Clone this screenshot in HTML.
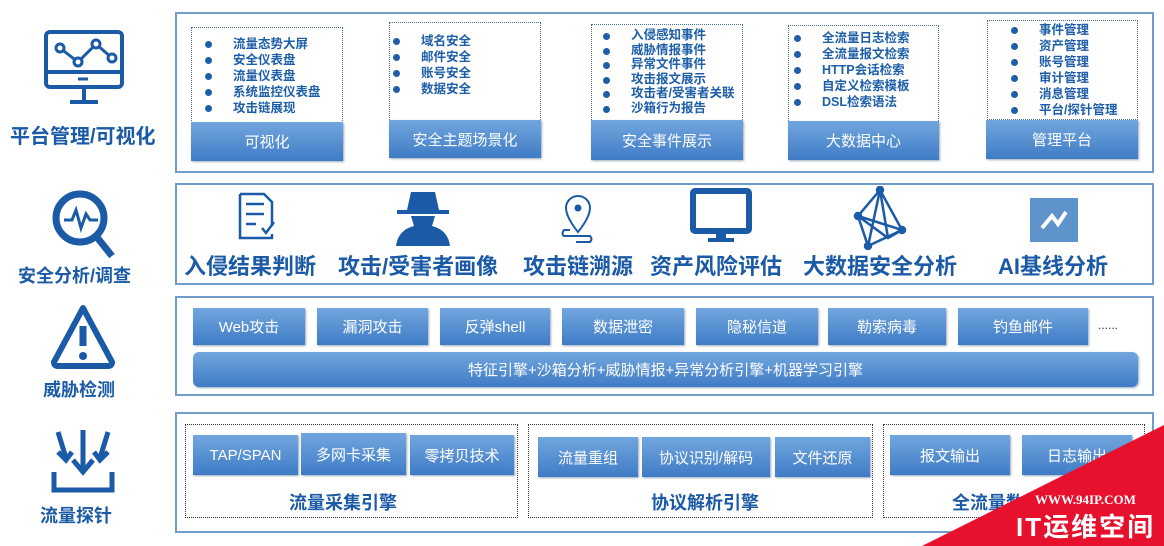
<!DOCTYPE html>
<html><head><meta charset="utf-8"><style>
*{margin:0;padding:0;box-sizing:border-box}
body{width:1164px;height:546px;background:#fff;position:relative;overflow:hidden;font-family:"Liberation Sans","Noto Sans CJK SC",sans-serif}
.a{position:absolute}
.box{position:absolute;border:2px solid #6f9ccb}
.dot{position:absolute;border:1px dotted #4a6f9c}
.btn{position:absolute;background:linear-gradient(#72a6de,#3f7cc6);color:#fff;font-size:15px;display:flex;align-items:center;justify-content:center;box-shadow:1px 1px 2px #9ab}
.list{position:absolute;font-size:12.5px;font-weight:bold;color:#1d5ea8;line-height:16px}
.list div{position:relative;padding-left:28px}
.list div:before{content:"";position:absolute;left:0;top:5px;width:7px;height:7px;border-radius:50%;background:#1d5ea8}
.lbl{position:absolute;font-weight:bold;color:#1a5aa6;white-space:nowrap}
.big{font-size:22px;color:#1a5aa6;font-weight:bold;position:absolute;top:249px;white-space:nowrap}
</style></head><body>
<svg class="a" style="left:40px;top:28px" width="90" height="80"><rect x="6" y="4" width="76" height="55" rx="4" fill="none" stroke="#1a5aa6" stroke-width="4"/><line x1="6" y1="44" x2="82" y2="44" stroke="#1a5aa6" stroke-width="4"/><line x1="38" y1="51" x2="48" y2="51" stroke="#1a5aa6" stroke-width="3"/><line x1="44" y1="59" x2="44" y2="72" stroke="#1a5aa6" stroke-width="4"/><line x1="30" y1="74" x2="58" y2="74" stroke="#1a5aa6" stroke-width="4"/><polyline points="20,20 38,34 56,16 72,30" fill="none" stroke="#1a5aa6" stroke-width="3"/><circle cx="20" cy="20" r="4" fill="#fff" stroke="#1a5aa6" stroke-width="3"/><circle cx="38" cy="34" r="4" fill="#fff" stroke="#1a5aa6" stroke-width="3"/><circle cx="56" cy="16" r="4" fill="#fff" stroke="#1a5aa6" stroke-width="3"/><circle cx="72" cy="30" r="4" fill="#fff" stroke="#1a5aa6" stroke-width="3"/></svg>
<div class="lbl" style="left:10px;top:120px;font-size:20px">平台管理/可视化</div>
<svg class="a" style="left:48px;top:188px" width="70" height="72"><circle cx="32" cy="30" r="24" fill="none" stroke="#1a5aa6" stroke-width="7"/><line x1="48" y1="48" x2="64" y2="68" stroke="#1a5aa6" stroke-width="7"/><polyline points="16,32 24,32 28,22 33,40 38,26 42,32 50,32" fill="none" stroke="#1a5aa6" stroke-width="3"/></svg>
<div class="lbl" style="left:18px;top:262px;font-size:18px">安全分析/调查</div>
<svg class="a" style="left:48px;top:302px" width="70" height="68"><path d="M35 6 L64 60 Q64 64 60 64 L10 64 Q6 64 6 60 Z" fill="none" stroke="#1a5aa6" stroke-width="6" stroke-linejoin="round"/><line x1="35" y1="24" x2="35" y2="44" stroke="#1a5aa6" stroke-width="7"/><circle cx="35" cy="54" r="4" fill="#1a5aa6"/></svg>
<div class="lbl" style="left:43px;top:376px;font-size:18px">威胁检测</div>
<svg class="a" style="left:48px;top:428px" width="70" height="72"><g stroke="#1a5aa6" stroke-width="5" fill="none"><line x1="35" y1="2" x2="35" y2="42"/><polyline points="25,32 35,44 45,32"/><line x1="10" y1="4" x2="18" y2="30"/><polyline points="10,24 18,32 24,24"/><line x1="60" y1="4" x2="52" y2="30"/><polyline points="46,24 52,32 60,24"/><polyline points="6,44 6,62 64,62 64,44"/></g></svg>
<div class="lbl" style="left:40px;top:502px;font-size:18px">流量探针</div>

<div class="box" style="left:175px;top:12px;width:979px;height:161px"></div>
<div class="dot" style="left:191px;top:27px;width:152px;height:100px"></div>
<div class="list" style="left:205px;top:36px"><div>流量态势大屏</div><div>安全仪表盘</div><div>流量仪表盘</div><div>系统监控仪表盘</div><div>攻击链展现</div></div>
<div class="btn" style="left:191px;top:122px;width:152px;height:39px">可视化</div>
<div class="dot" style="left:389px;top:22px;width:152px;height:100px"></div>
<div class="list" style="left:393px;top:33px"><div>域名安全</div><div>邮件安全</div><div>账号安全</div><div>数据安全</div></div>
<div class="btn" style="left:389px;top:120px;width:152px;height:38px">安全主题场景化</div>
<div class="dot" style="left:591px;top:24px;width:152px;height:100px"></div>
<div class="list" style="left:603px;top:28px;line-height:14.6px"><div>入侵感知事件</div><div>威胁情报事件</div><div>异常文件事件</div><div>攻击报文展示</div><div>攻击者/受害者关联</div><div>沙箱行为报告</div></div>
<div class="btn" style="left:591px;top:120px;width:152px;height:40px">安全事件展示</div>
<div class="dot" style="left:788px;top:25px;width:151px;height:100px"></div>
<div class="list" style="left:794px;top:30px"><div>全流量日志检索</div><div>全流量报文检索</div><div>HTTP会话检索</div><div>自定义检索模板</div><div>DSL检索语法</div></div>
<div class="btn" style="left:788px;top:121px;width:151px;height:39px">大数据中心</div>
<div class="dot" style="left:987px;top:20px;width:151px;height:100px"></div>
<div class="list" style="left:1011px;top:22px"><div>事件管理</div><div>资产管理</div><div>账号管理</div><div>审计管理</div><div>消息管理</div><div>平台/探针管理</div></div>
<div class="btn" style="left:986px;top:120px;width:152px;height:39px">管理平台</div>

<div class="box" style="left:175px;top:183px;width:979px;height:102px"></div>
<svg class="a" style="left:236px;top:190px" width="44" height="52"><path d="M4 4 h24 l8 8 v24 M36 44 v4 h-32 v-44" fill="none" stroke="#1a5aa6" stroke-width="2.5"/><line x1="10" y1="14" x2="28" y2="14" stroke="#1a5aa6" stroke-width="2.5"/><line x1="10" y1="24" x2="28" y2="24" stroke="#1a5aa6" stroke-width="2.5"/><line x1="10" y1="34" x2="20" y2="34" stroke="#1a5aa6" stroke-width="2.5"/><polyline points="26,38 30,43 38,32" fill="none" stroke="#1a5aa6" stroke-width="2.5"/></svg>
<svg class="a" style="left:393px;top:190px" width="60" height="56"><path d="M18 2 h24 l4 18 h10 v4 h-52 v-4 h10 z" fill="#1a5aa6"/><path d="M18 26 h24 l-3 10 q16 4 18 20 h-54 q2 -16 18 -20 z" fill="#1a5aa6"/></svg>
<svg class="a" style="left:560px;top:192px" width="40" height="52"><path d="M18 4 a12 12 0 0 1 12 12 c0 10 -12 24 -12 24 c0 0 -12 -14 -12 -24 a12 12 0 0 1 12 -12z" fill="none" stroke="#1a5aa6" stroke-width="2"/><circle cx="18" cy="16" r="3.5" fill="#1a5aa6"/><path d="M10 38 h-6 q-3 4 0 6 h26 q3 3 0 6 h-14" fill="none" stroke="#1a5aa6" stroke-width="2"/></svg>
<svg class="a" style="left:690px;top:188px" width="62" height="56"><rect x="3" y="3" width="56" height="40" rx="2" fill="none" stroke="#1a5aa6" stroke-width="6"/><rect x="26" y="44" width="10" height="6" fill="#1a5aa6"/><rect x="18" y="50" width="26" height="4" fill="#1a5aa6"/></svg>
<svg class="a" style="left:848px;top:186px" width="66" height="66" stroke="#1a5aa6" stroke-width="2.5" fill="none"><polyline points="32,4 10,30 20,60 54,44 32,4 20,60"/><polyline points="10,30 54,44"/><polyline points="32,4 40,52"/><polyline points="10,30 40,52 54,44"/><circle cx="32" cy="4" r="3" fill="#1a5aa6"/><circle cx="10" cy="30" r="3" fill="#1a5aa6"/><circle cx="20" cy="60" r="3" fill="#1a5aa6"/><circle cx="54" cy="44" r="3" fill="#1a5aa6"/></svg>
<svg class="a" style="left:1030px;top:198px" width="48" height="44"><rect width="48" height="44" fill="#5f93cb"/><polyline points="12,30 22,18 28,26 36,14" fill="none" stroke="#fff" stroke-width="4"/></svg>
<div class="big" style="left:184px">入侵结果判断</div>
<div class="big" style="left:338px">攻击/受害者画像</div>
<div class="big" style="left:523px">攻击链溯源</div>
<div class="big" style="left:650px">资产风险评估</div>
<div class="big" style="left:803px">大数据安全分析</div>
<div class="big" style="left:998px">AI基线分析</div>

<div class="box" style="left:175px;top:296px;width:979px;height:100px"></div>
<div class="btn" style="left:193px;top:308px;width:112px;height:37px">Web攻击</div>
<div class="btn" style="left:317px;top:308px;width:111px;height:37px">漏洞攻击</div>
<div class="btn" style="left:440px;top:308px;width:110px;height:37px">反弹shell</div>
<div class="btn" style="left:562px;top:308px;width:122px;height:37px">数据泄密</div>
<div class="btn" style="left:696px;top:308px;width:122px;height:37px">隐秘信道</div>
<div class="btn" style="left:828px;top:308px;width:118px;height:37px">勒索病毒</div>
<div class="btn" style="left:958px;top:308px;width:130px;height:37px">钓鱼邮件</div>
<div class="a" style="left:1098px;top:318px;font-size:12px;color:#333">......</div>
<div class="btn" style="left:193px;top:352px;width:945px;height:35px;border-radius:6px">特征引擎+沙箱分析+威胁情报+异常分析引擎+机器学习引擎</div>

<div class="box" style="left:175px;top:412px;width:979px;height:121px"></div>
<div class="dot" style="left:185px;top:424px;width:333px;height:94px;border-color:#333"></div>
<div class="dot" style="left:528px;top:424px;width:345px;height:94px;border-color:#333"></div>
<div class="dot" style="left:883px;top:424px;width:262px;height:94px;border-color:#333"></div>
<div class="btn" style="left:193px;top:435px;width:105px;height:40px">TAP/SPAN</div>
<div class="btn" style="left:301px;top:433px;width:105px;height:42px">多网卡采集</div>
<div class="btn" style="left:410px;top:435px;width:104px;height:40px">零拷贝技术</div>
<div class="btn" style="left:538px;top:437px;width:100px;height:40px">流量重组</div>
<div class="btn" style="left:642px;top:437px;width:128px;height:40px">协议识别/解码</div>
<div class="btn" style="left:775px;top:437px;width:95px;height:40px">文件还原</div>
<div class="btn" style="left:890px;top:435px;width:120px;height:40px">报文输出</div>
<div class="btn" style="left:1022px;top:435px;width:110px;height:40px">日志输出</div>
<div class="lbl" style="left:289px;top:489px;font-size:18px">流量采集引擎</div>
<div class="lbl" style="left:651px;top:489px;font-size:18px">协议解析引擎</div>
<div class="lbl" style="left:952px;top:489px;font-size:18px">全流量数据</div>

<svg class="a" style="left:0;top:0" width="1164" height="546"><polygon points="1164,425 922,546 1164,546" fill="#e8112d"/><text x="1035" y="504" fill="#fff" font-size="13" font-weight="bold" font-family="Liberation Serif,serif">WWW.94IP.COM</text><text x="1016" y="536" fill="#fff" font-size="26" font-weight="bold" font-family="Liberation Sans,Noto Sans CJK SC,sans-serif" letter-spacing="2">IT运维空间</text></svg>
</body></html>
